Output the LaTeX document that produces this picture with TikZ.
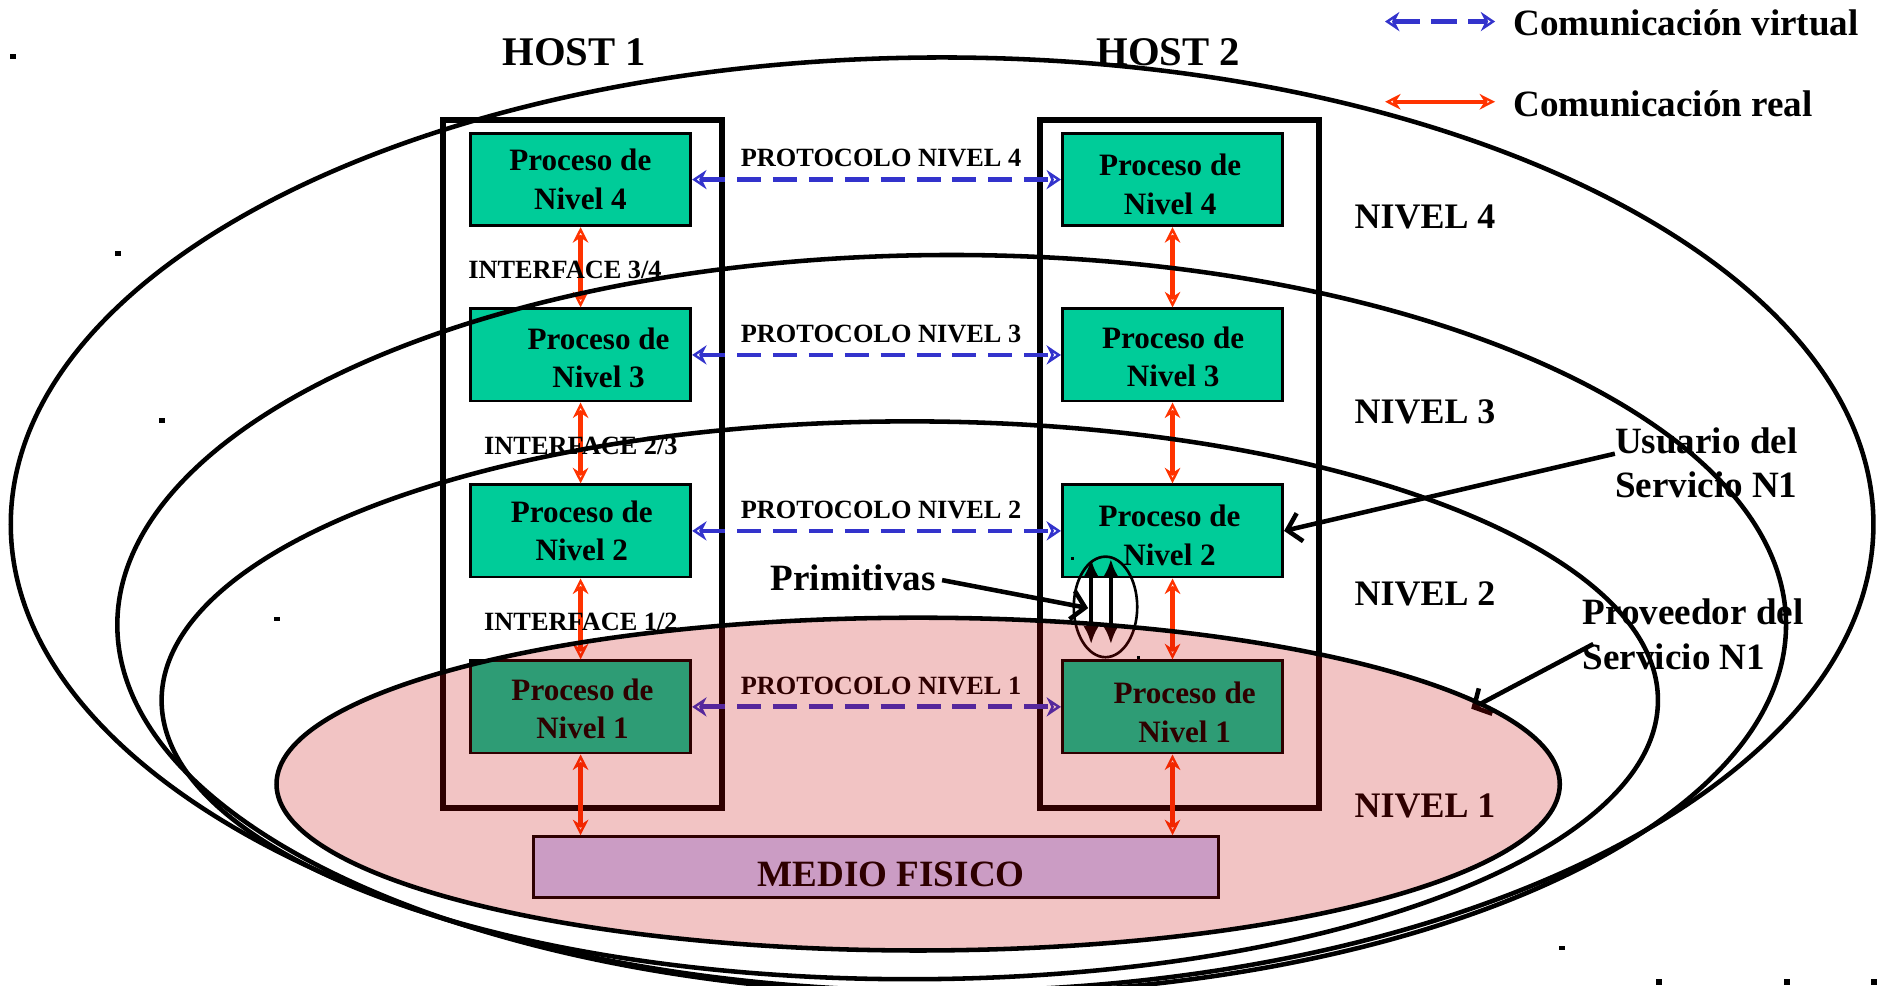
\documentclass[tikz,border=0pt]{standalone}
\usepackage{fontspec}
\setmainfont{Liberation Serif}
\usetikzlibrary{arrows.meta,shapes.geometric}
\definecolor{procgreen}{RGB}{0,204,153}
\definecolor{protblue}{RGB}{51,51,204}
\definecolor{realred}{RGB}{255,51,0}
\definecolor{medioc}{RGB}{204,204,255}
\definecolor{overlayred}{RGB}{200,0,0}
\begin{document}
\begin{tikzpicture}[x=1pt,y=-1pt,
  procbox/.style={draw=black, line width=2.4pt, fill=procgreen, minimum width=184pt, minimum height=77pt, inner sep=0pt},
  proctext/.style={font=\bfseries\fontsize{26}{32}\selectfont, align=center, inner sep=0pt},
  hostframe/.style={draw=black, line width=5pt, minimum width=233pt, minimum height=575pt, inner sep=0pt},
  mediobox/.style={draw=black, line width=2.5pt, fill=medioc, minimum width=572pt, minimum height=51pt, inner sep=0pt},
  bigtext/.style={font=\bfseries\fontsize{31}{37}\selectfont, inner sep=0pt},
  niveltext/.style={font=\bfseries\fontsize{30}{36}\selectfont, inner sep=0pt},
  hosttext/.style={font=\bfseries\fontsize{34}{40}\selectfont, inner sep=0pt},
  smalltext/.style={font=\bfseries\fontsize{22}{26}\selectfont, inner sep=0pt},
  virtarrow/.style={draw=protblue, line width=4pt, dash pattern=on 20pt off 10pt,
    arrows={Stealth[open,length=12pt,width=16pt,line width=2.2pt]-Stealth[open,length=12pt,width=16pt,line width=2.2pt]}},
  realarrow/.style={draw=realred, line width=3.6pt,
    arrows={Stealth[open,length=13pt,width=13pt,line width=2pt]-Stealth[open,length=13pt,width=13pt,line width=2pt]}},
  pointer/.style={draw=black, line width=3.8pt, arrows={-Straight Barb[length=11pt,width=24pt]}},
  primarrow/.style={draw=black, line width=3.2pt, arrows={Latex[length=15pt,width=13pt]-Latex[length=15pt,width=13pt]}},
  ellline/.style={draw=black, line width=3.8pt},
  dotsq/.style={fill=black}
]
\useasboundingbox (0,0) rectangle (1568,823);
\clip (0,0) rectangle (1568,823);
\fill[white] (0,0) rectangle (1568,823);

% host frames
\node[hostframe] (host1) at (486.5,387.5) {};
\node[hostframe] (host2) at (985.5,387.5) {};

% process boxes
\node[procbox] (h1n4) at (485,150) {};
\node[procbox] (h1n3) at (485,296.5) {};
\node[procbox] (h1n2) at (485,443.5) {};
\node[procbox] (h1n1) at (485,590.5) {};
\node[procbox] (h2n4) at (979.5,150) {};
\node[procbox] (h2n3) at (979.5,296.5) {};
\node[procbox] (h2n2) at (979.5,443.5) {};
\node[procbox] (h2n1) at (979.5,590.5) {};

\node[proctext] (t1n4) at (484.8,152.2) {\strut Proceso de\\\strut Nivel 4};
\node[proctext] (t1n3) at (500,301.2) {\strut Proceso de\\\strut Nivel 3};
\node[proctext] (t1n2) at (486,446) {\strut Proceso de\\\strut Nivel 2};
\node[proctext] (t1n1) at (486.6,594.6) {\strut Proceso de\\\strut Nivel 1};
\node[proctext] (t2n4) at (977.5,156.4) {\strut Proceso de\\\strut Nivel 4};
\node[proctext] (t2n3) at (980,300.6) {\strut Proceso de\\\strut Nivel 3};
\node[proctext] (t2n2) at (977,449.6) {\strut Proceso de\\\strut Nivel 2};
\node[proctext] (t2n1) at (989.6,597.6) {\strut Proceso de\\\strut Nivel 1};

% medio fisico
\node[mediobox] (medio) at (732,724.5) {};
\node[bigtext, anchor=base] (mediot) at (744.5,740.7) {MEDIO FISICO};

% protocol arrows
\draw[virtarrow] (h1n4.east) -- (h2n4.west);
\draw[virtarrow] (h1n3.east) -- (h2n3.west);
\draw[virtarrow] (h1n2.east) -- (h2n2.west);
\draw[virtarrow] (h1n1.east) -- (h2n1.west);
\node[smalltext, anchor=base] (p4) at (736,139.3) {PROTOCOLO NIVEL 4};
\node[smalltext, anchor=base] (p3) at (736,286) {PROTOCOLO NIVEL 3};
\node[smalltext, anchor=base] (p2) at (736,433) {PROTOCOLO NIVEL 2};
\node[smalltext, anchor=base] (p1) at (736,580) {PROTOCOLO NIVEL 1};

% real arrows
\draw[realarrow] (h1n4.south) -- (h1n3.north);
\draw[realarrow] (h1n3.south) -- (h1n2.north);
\draw[realarrow] (h1n2.south) -- (h1n1.north);
\draw[realarrow] (h1n1.south) -- (h1n1.south |- medio.north);
\draw[realarrow] (h2n4.south) -- (h2n3.north);
\draw[realarrow] (h2n3.south) -- (h2n2.north);
\draw[realarrow] (h2n2.south) -- (h2n1.north);
\draw[realarrow] (h2n1.south) -- (h2n1.south |- medio.north);

% interface labels
\node[smalltext, anchor=base west] (i34) at (391,232.6) {INTERFACE 3/4};
\node[smalltext, anchor=base west] (i23) at (404.3,379.3) {INTERFACE 2/3};
\node[smalltext, anchor=base west] (i12) at (404.3,526.3) {INTERFACE 1/2};

% level labels
\node[niveltext, anchor=base west] (nv4) at (1131.5,190.5) {NIVEL 4};
\node[niveltext, anchor=base west] (nv3) at (1131.5,353.5) {NIVEL 3};
\node[niveltext, anchor=base west] (nv2) at (1131.5,505.5) {NIVEL 2};
\node[niveltext, anchor=base west] (nv1) at (1131.5,682.5) {NIVEL 1};

% hosts
\node[hosttext, anchor=base west] (hostA) at (419.5,54.3) {HOST 1};
\node[hosttext, anchor=base west] (hostB) at (915.8,54.3) {HOST 2};

% legend
\coordinate (lv1) at (1157,18);
\coordinate (lv2) at (1249,18);
\coordinate (lr1) at (1157,85);
\coordinate (lr2) at (1249,85);
\draw[virtarrow, dash pattern=on 22pt off 9pt] (lv1) -- (lv2);
\draw[realarrow] (lr1) -- (lr2);
\node[bigtext, anchor=base west] (legv) at (1264,30) {Comunicación virtual};
\node[bigtext, anchor=base west] (legr) at (1264,97) {Comunicación real};

% primitivas
\node[bigtext, anchor=base west] (prim) at (643.7,493.5) {Primitivas};
\node[draw=black, ellipse, line width=2.2pt, minimum width=53pt, minimum height=84pt, inner sep=0pt] (primell) at (923.5,507) {};
\coordinate (pa1t) at (911.5,467);
\coordinate (pa1b) at (911.5,538);
\coordinate (pa2t) at (928,467);
\coordinate (pa2b) at (928,538);
\draw[primarrow] (pa1t) -- (pa1b);
\draw[primarrow] (pa2t) -- (pa2b);
\coordinate (primtail) at (787,484.6);
\coordinate (primtip) at (909,508);
\draw[pointer] (primtail) -- (primtip);

% usuario / proveedor
\node[bigtext, anchor=base west] (usu1) at (1349,378.5) {Usuario del};
\node[bigtext, anchor=base west] (usu2) at (1349,416) {Servicio N1};
\node[bigtext, anchor=base west] (prov1) at (1322,522) {Proveedor del};
\node[bigtext, anchor=base west] (prov2) at (1322,559) {Servicio N1};
\coordinate (usutail) at (1349,379);
\draw[pointer] (usutail) -- (h2n2.east);
\coordinate (provtail) at (1331,538);
\coordinate (provtip) at (1229,592);
\draw[pointer] (provtail) -- (provtip);

% level ellipses
\draw[ellline] (787,438) ellipse [x radius=778, y radius=390];
\draw[ellline] (795,522) ellipse [x radius=697, y radius=309];
\draw[ellline] (760,585) ellipse [x radius=625, y radius=233];
\filldraw[ellline, fill=overlayred, fill opacity=0.23] (767,655) ellipse [x radius=536, y radius=139];

% stray dots
\fill[dotsq] (8,45) rectangle (13,49);
\fill[dotsq] (96,210) rectangle (101,214);
\fill[dotsq] (133,349) rectangle (138,353);
\fill[dotsq] (229,515) rectangle (234,519);
\fill[dotsq] (895,465) rectangle (897.5,467.5);
\fill[dotsq] (950,548) rectangle (952.5,550.5);
\fill[dotsq] (1302,790) rectangle (1307,794);
\fill[dotsq] (1383,818) rectangle (1388,823);
\fill[dotsq] (1490,818) rectangle (1495,823);
\fill[dotsq] (1563,818) rectangle (1568,823);
\end{tikzpicture}
\end{document}
